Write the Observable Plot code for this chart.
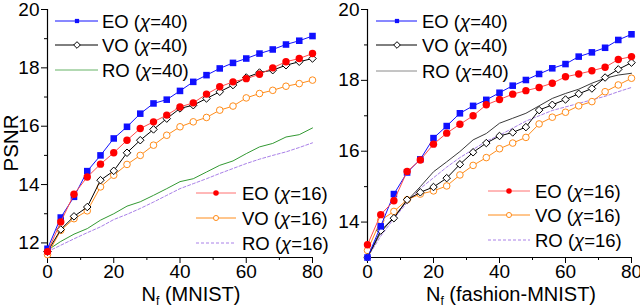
<!DOCTYPE html>
<html>
<head>
<meta charset="utf-8">
<script src="https://cdn.jsdelivr.net/npm/d3@7"></script>
<script src="https://cdn.jsdelivr.net/npm/@observablehq/plot@0.6"></script>
<style>
  html, body { margin: 0; padding: 0; background: #fff; }
  #wrap { display: flex; width: 640px; height: 307px; overflow: hidden; background: #fff; }
  #wrap svg { flex: none; overflow: visible; }
</style>
</head>
<body>
<div id="wrap"></div>
<script>
// ---- data ----
const nf = [0, 4, 8, 12, 16, 20, 24, 28, 32, 36, 40, 44, 48, 52, 56, 60, 64, 68, 72, 76, 80];

// MNIST panel
const mnistEO40 = [11.8, 12.87, 13.58, 14.46, 15.0, 15.58, 15.98, 16.43, 16.78, 16.91, 17.21, 17.52, 17.75, 17.98, 18.17, 18.32, 18.49, 18.63, 18.8, 18.93, 19.09];
const mnistVO40 = [11.7, 12.46, 12.91, 13.23, 14.15, 14.47, 15.09, 15.52, 15.89, 16.26, 16.61, 16.72, 16.95, 17.18, 17.41, 17.67, 17.84, 17.92, 18.09, 18.21, 18.32];
const mnistRO40 = [11.75, 12.05, 12.3, 12.49, 12.78, 13.0, 13.26, 13.41, 13.63, 13.86, 14.1, 14.2, 14.43, 14.66, 14.81, 15.06, 15.29, 15.41, 15.63, 15.71, 15.94];
const mnistEO16 = [11.7, 12.72, 13.67, 14.26, 14.7, 15.09, 15.52, 15.92, 16.15, 16.38, 16.66, 16.8, 17.1, 17.35, 17.52, 17.63, 17.78, 18.0, 18.21, 18.32, 18.49];
const mnistVO16 = [11.6, 12.43, 12.83, 13.1, 13.92, 14.32, 14.69, 15.0, 15.35, 15.69, 15.98, 16.15, 16.3, 16.55, 16.69, 16.97, 17.12, 17.23, 17.37, 17.46, 17.58];
const mnistRO16 = [11.7, 11.92, 12.14, 12.35, 12.55, 12.8, 12.98, 13.18, 13.4, 13.63, 13.86, 14.03, 14.2, 14.38, 14.55, 14.72, 14.87, 15.0, 15.12, 15.27, 15.43];

// fashion-MNIST panel
const fashionEO40 = [13.0, 13.88, 14.79, 15.4, 15.77, 16.37, 16.71, 17.07, 17.28, 17.45, 17.65, 17.85, 18.01, 18.18, 18.34, 18.46, 18.67, 18.79, 18.92, 19.14, 19.3];
const fashionVO40 = [13.0, 13.76, 14.11, 14.63, 14.84, 14.99, 15.24, 15.63, 15.97, 16.23, 16.43, 16.53, 16.68, 17.16, 17.31, 17.46, 17.62, 17.77, 18.08, 18.31, 18.5];
const fashionRO40 = [13.0, 13.7, 14.15, 14.6, 15.0, 15.42, 15.7, 15.99, 16.32, 16.5, 16.79, 16.93, 17.07, 17.28, 17.49, 17.63, 17.75, 17.92, 18.06, 18.15, 18.2];
const fashionEO16 = [13.36, 14.21, 14.6, 15.43, 15.75, 16.2, 16.51, 16.76, 17.0, 17.31, 17.46, 17.61, 17.71, 17.8, 17.92, 18.1, 18.18, 18.27, 18.37, 18.59, 18.67];
const fashionVO16 = [13.2, 14.05, 14.3, 14.63, 14.79, 14.88, 15.02, 15.33, 15.6, 15.82, 16.07, 16.23, 16.39, 16.77, 16.96, 17.1, 17.28, 17.4, 17.68, 17.87, 18.06];
const fashionRO16 = [13.0, 13.6, 14.1, 14.55, 14.95, 15.25, 15.55, 15.82, 16.05, 16.28, 16.45, 16.65, 16.85, 17.0, 17.15, 17.25, 17.35, 17.45, 17.55, 17.68, 17.8];

const xMajorTicks = [0, 20, 40, 60, 80];
const xMinorTicks = [10, 30, 50, 70];
const mnistYMajor = [12, 14, 16, 18, 20];
const mnistYMinor = [13, 15, 17, 19];
const fashionYMajor = [14, 16, 18, 20];
const fashionYMinor = [15, 17, 19];

const legendNames = ["EO", "VO", "RO"];

// ---- styles ----
const FONT = "'Liberation Sans', Arial, Helvetica, sans-serif";
const C = {
  eo40: "#1010ff", vo40: "#000000", ro40m: "#339933", ro40f: "#3a3a3a",
  eo16dot: "#ff0000", eo16line: "#ff4a4a", vo16: "#ff8c1a", ro16: "#a980e8"
};
const diamondSym = {
  draw(ctx, size) {
    const h = Math.sqrt(size / 2);
    ctx.moveTo(0, -h); ctx.lineTo(h, 0); ctx.lineTo(0, h); ctx.lineTo(-h, 0); ctx.closePath();
  }
};
const intFmt = d3.format("d");

function rows(ys) { return nf.map((x, i) => ({x, y: ys[i]})); }

function panel({series, yDomain, yMajor, yMinor, marginRight, xlabel, ylabel, ro40color, ro40legend, leg40, leg16, bg}) {
  const [EO40, VO40, RO40, EO16, VO16, RO16] = series.map(rows);
  const p = Plot.plot({
    width: 320, height: 307,
    marginLeft: 47, marginRight, marginTop: 9, marginBottom: 50,
    style: {fontFamily: FONT, fontSize: "19px", background: bg, color: "black", overflow: "visible"},
    x: {domain: [0, 80]},
    y: {domain: yDomain},
    marks: [
      Plot.axisX({ticks: xMajorTicks, tickSize: 6, tickPadding: 1, label: null, fontSize: 19, tickFormat: intFmt}),
      Plot.axisX({ticks: xMinorTicks, tickSize: 3, tickFormat: () => "", label: null}),
      Plot.axisY({ticks: yMajor, tickSize: 6, tickPadding: 2, label: null, fontSize: 19, tickFormat: intFmt}),
      Plot.axisY({ticks: yMinor, tickSize: 3, tickFormat: () => "", label: null}),
      Plot.ruleX([0], {stroke: "black", strokeWidth: 1.2}),
      Plot.ruleY([yDomain[0]], {stroke: "black", strokeWidth: 1.2}),
      Plot.line(RO16, {x: "x", y: "y", stroke: C.ro16, strokeWidth: 1, strokeDasharray: "3,2"}),
      Plot.line(RO40, {x: "x", y: "y", stroke: ro40color, strokeWidth: 1}),
      Plot.line(VO16, {x: "x", y: "y", stroke: C.vo16, strokeWidth: 1}),
      Plot.dot(VO16, {x: "x", y: "y", r: 3.3, stroke: C.vo16, fill: "white", strokeWidth: 1}),
      Plot.line(VO40, {x: "x", y: "y", stroke: C.vo40, strokeWidth: 1}),
      Plot.dot(VO40, {x: "x", y: "y", symbol: diamondSym, r: 3, stroke: C.vo40, fill: "white", strokeWidth: 1}),
      Plot.line(EO40, {x: "x", y: "y", stroke: C.eo40, strokeWidth: 1}),
      Plot.dot(EO40, {x: "x", y: "y", symbol: "square", r: 3.7, fill: C.eo40, stroke: "none"}),
      Plot.line(EO16, {x: "x", y: "y", stroke: C.eo16line, strokeWidth: 1}),
      Plot.dot(EO16, {x: "x", y: "y", r: 3.7, fill: C.eo16dot, stroke: "none"})
    ]
  });
  const svg = d3.select(p);

  // x label with subscript
  const xl = svg.append("text")
    .attr("x", 191).attr("y", 301)
    .attr("text-anchor", "middle")
    .attr("font-family", FONT).attr("font-size", 20).attr("fill", "black");
  xl.append("tspan").text("N");
  xl.append("tspan").attr("font-size", 12).attr("dy", 4).text("f");
  xl.append("tspan").attr("dy", -4).text(" " + xlabel);

  if (ylabel) {
    svg.append("text")
      .attr("transform", "translate(18,143) rotate(-90)")
      .attr("text-anchor", "middle")
      .attr("font-family", FONT).attr("font-size", 20.5).attr("fill", "black")
      .text(ylabel);
  }

  // legend
  function item(g, {x1, x2, xm, xt, y, name, chi, stroke, dash, marker}) {
    g.append("line").attr("x1", x1).attr("x2", x2).attr("y1", y).attr("y2", y)
      .attr("stroke", stroke).attr("stroke-width", 1).attr("stroke-dasharray", dash || null);
    if (marker) {
      g.append("path").attr("transform", `translate(${xm},${y})`)
        .attr("d", d3.symbol(marker.type, marker.size)())
        .attr("fill", marker.fill).attr("stroke", marker.stroke || "none").attr("stroke-width", 1);
    }
    const t = g.append("text").attr("x", xt).attr("y", y).attr("dy", "0.36em")
      .attr("text-anchor", "start")
      .attr("font-family", FONT).attr("font-size", 18.5).attr("fill", "black");
    t.append("tspan").text(name + " (");
    t.append("tspan").attr("font-style", "italic").text("χ");
    t.append("tspan").text("=" + chi + ")");
  }
  const g = svg.append("g");
  const sq = {type: d3.symbolSquare, size: 18, fill: C.eo40};
  const dm = {type: diamondSym, size: 22, fill: "white", stroke: "black"};
  const rd = {type: d3.symbolCircle, size: 24, fill: C.eo16dot};
  const oc = {type: d3.symbolCircle, size: 20, fill: "white", stroke: C.vo16};
  const s40 = [[C.eo40, null, sq], ["#000", null, dm], [ro40legend, null, null]];
  const s16 = [["#ff7070", null, rd], [C.vo16, null, oc], [C.ro16, "3,2", null]];
  legendNames.forEach((name, i) => item(g, {
    x1: leg40.x1, x2: leg40.x2, xm: leg40.xm, xt: leg40.xt, y: leg40.ys[i],
    name, chi: 40, stroke: s40[i][0], dash: s40[i][1], marker: s40[i][2]
  }));
  legendNames.forEach((name, i) => item(g, {
    x1: leg16.x1, x2: leg16.x2, xm: leg16.xm, xt: leg16.xt, y: leg16.ys[i],
    name, chi: 16, stroke: s16[i][0], dash: s16[i][1], marker: s16[i][2]
  }));
  return p;
}

const wrap = document.getElementById("wrap");
wrap.append(panel({
  series: [mnistEO40, mnistVO40, mnistRO40, mnistEO16, mnistVO16, mnistRO16],
  yDomain: [11.5, 20], yMajor: mnistYMajor, yMinor: mnistYMinor, marginRight: 8,
  xlabel: "(MNIST)", ylabel: "PSNR", ro40color: C.ro40m, ro40legend: "#66b366", bg: "white",
  leg40: {x1: 55, x2: 98, xm: 77, xt: 102, ys: [21, 45, 70]},
  leg16: {x1: 196, x2: 236, xm: 216, xt: 242, ys: [193, 218, 243]}
}));
wrap.append(panel({
  series: [fashionEO40, fashionVO40, fashionRO40, fashionEO16, fashionVO16, fashionRO16],
  yDomain: [13, 20], yMajor: fashionYMajor, yMinor: fashionYMinor, marginRight: 9,
  xlabel: "(fashion-MNIST)", ylabel: null, ro40color: C.ro40f, ro40legend: "#8a8a8a", bg: "transparent",
  leg40: {x1: 56, x2: 97, xm: 77, xt: 102, ys: [21, 45, 71]},
  leg16: {x1: 168, x2: 210, xm: 189, xt: 215, ys: [191, 215, 240]}
}));
</script>
</body>
</html>
